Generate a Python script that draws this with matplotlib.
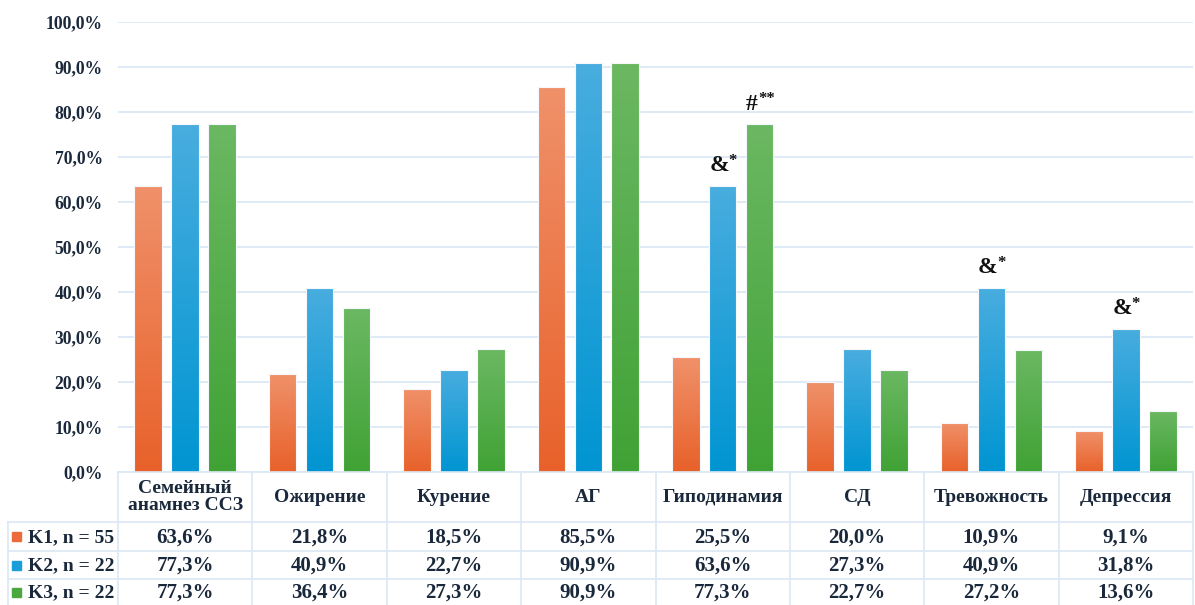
import numpy as np
import matplotlib
matplotlib.use("Agg")
import matplotlib.pyplot as plt
from matplotlib.colors import LinearSegmentedColormap
from matplotlib.lines import Line2D
from matplotlib.patches import Rectangle

categories = ["Семейный\nанамнез ССЗ", "Ожирение", "Курение", "АГ", "Гиподинамия",
              "СД", "Тревожность", "Депрессия"]
series_names = ["K1, n = 55", "K2, n = 22", "K3, n = 22"]
k1 = [63.6, 21.8, 18.5, 85.5, 25.5, 20.0, 10.9, 9.1]
k2 = [77.3, 40.9, 22.7, 90.9, 63.6, 27.3, 40.9, 31.8]
k3 = [77.3, 36.4, 27.3, 90.9, 77.3, 22.7, 27.2, 13.6]
annotations = [(4, 1, "&", "*"), (4, 2, "#", "**"), (6, 1, "&", "*"), (7, 1, "&", "*")]
yticks = [0, 10, 20, 30, 40, 50, 60, 70, 80, 90, 100]

plt.rcParams['font.family'] = ['Liberation Serif', 'DejaVu Serif']
plt.rcParams['font.weight'] = 'bold'
TXT = '#1a283b'
GRID = '#dbe8f5'

top_cols = ['#f0916a', '#49addf', '#6bb862']
bot_cols = ['#e8612a', '#0095d2', '#40a235']
legend_cols = ['#ec6b3a', '#1a9ed8', '#4aa83f']

W, H = 1195, 605
fig = plt.figure(figsize=(W / 100, H / 100), dpi=100)
x0, x1 = 118, 1193
y_top, y_zero = 22, 472
ax = fig.add_axes([x0 / W, (H - y_zero) / H, (x1 - x0) / W, (y_zero - y_top) / H])
ax.set_xlim(-0.5, len(categories) - 0.5)
ax.set_ylim(0, 100)
for s in ax.spines.values():
    s.set_visible(False)
ax.set_xticks([])
ax.set_yticks(yticks)
ax.set_yticklabels([f"{v:.1f}%".replace('.', ',') for v in yticks], fontsize=12.7,
                   color=TXT, fontweight='bold')
ax.tick_params(axis='y', length=0, pad=11)
ax.grid(axis='y', color=GRID, linewidth=1.3)
ax.set_axisbelow(True)

width = 0.205
offs = [-0.275, 0, 0.275]
xs = np.arange(len(categories))
grad = np.linspace(0, 1, 256).reshape(-1, 1)
for si, vals in enumerate([k1, k2, k3]):
    cmap = LinearSegmentedColormap.from_list(f"g{si}", [bot_cols[si], top_cols[si]])
    bars = ax.bar(xs + offs[si], vals, width, color='none', edgecolor='#f4f8fc',
                  linewidth=0.8, zorder=3)
    for b in bars:
        bx, by = b.get_x(), b.get_y()
        bw, bh = b.get_width(), b.get_height()
        im = ax.imshow(grad, extent=[bx, bx + bw, by, by + bh], origin='lower',
                       cmap=cmap, aspect='auto', zorder=2)
        im.set_clip_path(b)
ax.set_xlim(-0.5, len(categories) - 0.5)
ax.set_ylim(0, 100)

all_vals = [k1, k2, k3]
for ci, si, sym, sup in annotations:
    v = all_vals[si][ci]
    px = xs[ci] + offs[si]
    main_w = 13.5 if sym == "&" else 8.5
    sup_w = 6.0 * len(sup)
    start = -(main_w + sup_w) / 2
    ax.annotate(sym, (px, v), xytext=(start, 10.5), textcoords='offset points',
                ha='left', va='baseline', fontsize=17, color='#111111',
                fontweight='bold', zorder=5)
    ax.annotate(sup, (px, v), xytext=(start + main_w + 0.5, 15), textcoords='offset points',
                ha='left', va='baseline', fontsize=12, color='#111111',
                fontweight='bold', zorder=5)

# table
def fx(px):
    return px / W

def fy(py):
    return 1 - py / H

colw = (x1 - x0) / len(categories)
rows_y = [472, 522, 551, 579, 605]
lc = GRID
lw = 1.2
fig.add_artist(Line2D([fx(x0), fx(x1)], [fy(472), fy(472)], color=lc, lw=lw))
for yy in rows_y[1:4]:
    fig.add_artist(Line2D([fx(8), fx(x1)], [fy(yy), fy(yy)], color=lc, lw=lw))
for i in range(len(categories) + 1):
    xx = x0 + i * colw
    fig.add_artist(Line2D([fx(xx), fx(xx)], [fy(472), fy(605)], color=lc, lw=lw))
fig.add_artist(Line2D([fx(8), fx(8)], [fy(522), fy(605)], color=lc, lw=lw))

for i, cat in enumerate(categories):
    cx = x0 + (i + 0.5) * colw
    fig.text(fx(cx), fy(497), cat, ha='center', va='center', fontsize=14,
             color=TXT, fontweight='bold', linespacing=1.0)
    for r, vals in enumerate(all_vals):
        cy = (rows_y[r + 1] + rows_y[r + 2]) / 2
        fig.text(fx(cx), fy(cy + 1), f"{vals[i]:.1f}%".replace('.', ','), ha='center',
                 va='center', fontsize=15, color=TXT, fontweight='bold')

for r, name in enumerate(series_names):
    cy = (rows_y[r + 1] + rows_y[r + 2]) / 2
    fig.add_artist(Rectangle((fx(12), fy(cy + 4.5)), 9 / W, 9 / H,
                             transform=fig.transFigure, color=legend_cols[r]))
    fig.text(fx(28), fy(cy + 1), name, ha='left', va='center', fontsize=14,
             color=TXT, fontweight='bold')

fig.savefig("out.png", dpi=100)
